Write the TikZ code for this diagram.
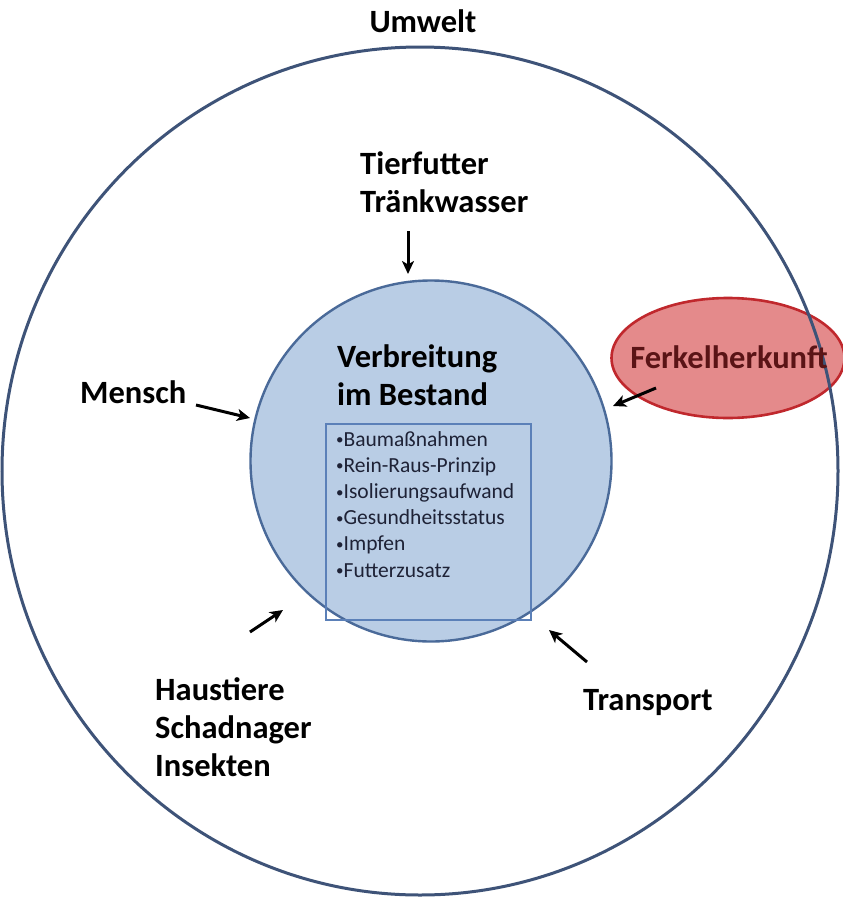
\documentclass[tikz,border=0pt]{standalone}
\usepackage{fontspec}
\setmainfont{Carlito}
\usetikzlibrary{arrows.meta,shapes.geometric}
\definecolor{ringline}{HTML}{3E5378}
\definecolor{corefill}{HTML}{B9CDE5}
\definecolor{coreline}{HTML}{4A6A99}
\definecolor{boxline}{HTML}{5B80B8}
\definecolor{pigfill}{HTML}{E48A8B}
\definecolor{pigline}{HTML}{C0282D}
\definecolor{pigtext}{HTML}{5A1416}
\definecolor{listtext}{HTML}{1E2236}
\newcommand{\listdot}{{\fontsize{15}{15}\selectfont\raisebox{1.5pt}{•}}}
\tikzset{
  bigtext/.style={font=\fontsize{32.5}{38}\selectfont\bfseries, inner sep=0pt, align=left},
  listtxt/.style={font=\fontsize{21.5}{26.2}\selectfont, text=listtext, inner sep=0pt, align=left},
  influx/.style={draw=black, line width=3pt, -{Stealth[length=13pt,width=12pt,inset=3.5pt]}},
}
\begin{document}
\begin{tikzpicture}[x=1pt,y=-1pt]
\useasboundingbox (0,0) rectangle (843,897);
\fill[white] (0,0) rectangle (843,897);

% source of the piglets, partly outside the environment ring
\node[ellipse, draw=pigline, line width=2.6pt, fill=pigfill, minimum width=233pt, minimum height=120pt, inner sep=0pt] (herkunft) at (728,358) {};

% environment ring
\draw[ringline, line width=3pt] (420,471) ellipse [x radius=418, y radius=424];
\node (umwelt) [bigtext, anchor=base] at (423,32) {Umwelt};

% the herd
\node[circle, draw=coreline, line width=2.4pt, fill=corefill, minimum size=361pt, inner sep=0pt] (bestand) at (431,461) {};
\node (titel) [bigtext, anchor=base west] at (337,405) {Verbreitung\\im Bestand};

% measures inside the herd
\node[draw=boxline, line width=1.5pt, minimum width=205pt, minimum height=196pt, inner sep=0pt, anchor=north west] (massnahmen) at (325,423) {};
\node (liste) [listtxt, anchor=north west] at (336,431) {%
\listdot Baumaßnahmen\\\listdot Rein-Raus-Prinzip\\\listdot Isolierungsaufwand\\\listdot Gesundheitsstatus\\\listdot Impfen\\\listdot Futterzusatz};

\node (ferkel) [bigtext, text=pigtext, anchor=base] at (729,368) {Ferkelherkunft};

% entry routes
\node (futter) [bigtext, anchor=base west] at (360,212) {Tierfutter\\Tränkwasser};
\node (mensch) [bigtext, anchor=base west] at (80,403) {Mensch};
\node (tiere) [bigtext, anchor=base west] at (155,776) {Haustiere\\Schadnager\\Insekten};
\node (transport) [bigtext, anchor=base west] at (583,710) {Transport};

\coordinate (futterA) at (408,231);
\coordinate (futterB) at (408,274);
\coordinate (menschA) at (196,405);
\coordinate (menschB) at (250,418);
\coordinate (ferkelA) at (656,388);
\coordinate (ferkelB) at (613,406);
\coordinate (tiereA) at (250,632);
\coordinate (tiereB) at (283,610);
\coordinate (transA) at (587,662);
\coordinate (transB) at (549,630);

\draw[influx] (futterA) -- (futterB);
\draw[influx] (menschA) -- (menschB);
\draw[influx] (ferkelA) -- (ferkelB);
\draw[influx] (tiereA) -- (tiereB);
\draw[influx] (transA) -- (transB);
\end{tikzpicture}
\end{document}
